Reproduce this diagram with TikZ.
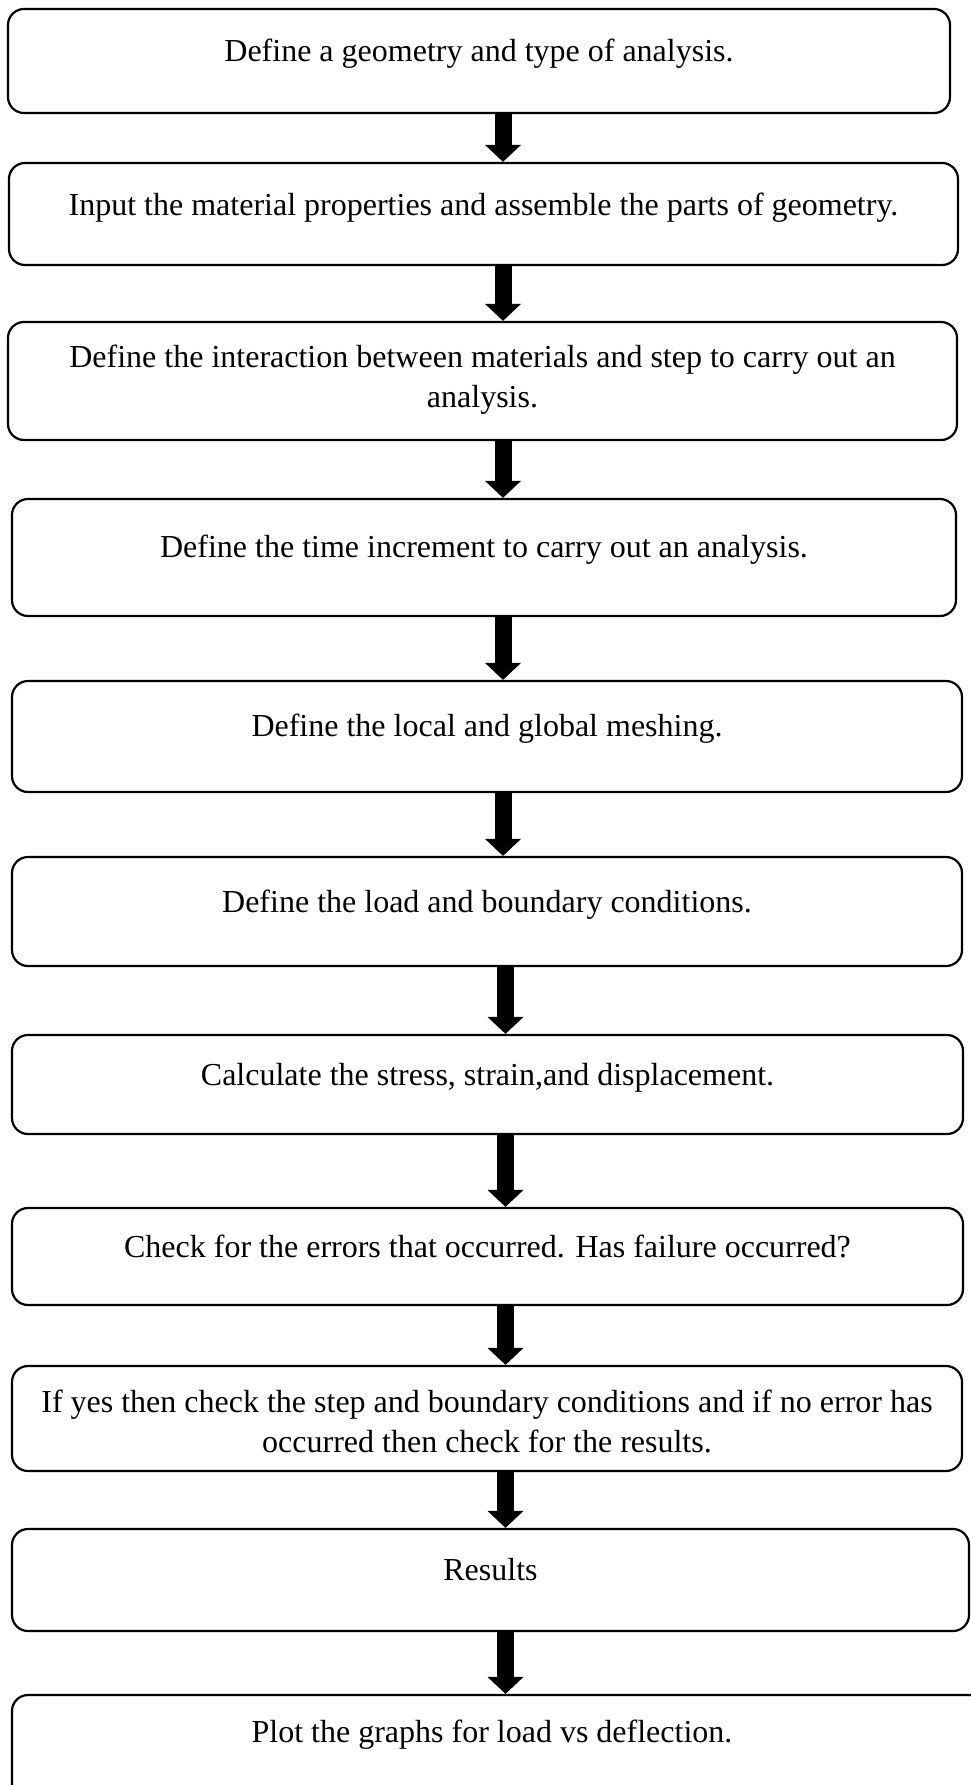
\documentclass[tikz,border=0pt]{standalone}
\usepackage{fontspec}
\setmainfont{Liberation Serif}
\usetikzlibrary{arrows.meta}
\tikzset{
  box/.style={draw=black, line width=2.2pt, rounded corners=16pt, inner sep=0pt, fill=white},
  txt/.style={font=\fontsize{32}{40}\selectfont, align=center, inner sep=0pt, anchor=base},
  arr/.style={line width=17pt, -{Triangle[width=35pt, length=17pt]}}
}
\begin{document}
\begin{tikzpicture}[x=1pt, y=-1pt]
\useasboundingbox (0,0) rectangle (971,1785);
\fill[white] (0,0) rectangle (971,1785);
\coordinate (ax) at (503,0);
\coordinate (bx) at (505.5,0);
\node[box, minimum width=942pt, minimum height=104pt] (b1) at (479,61) {};
\node[box, minimum width=949pt, minimum height=102pt] (b2) at (483.5,214) {};
\node[box, minimum width=949pt, minimum height=118pt] (b3) at (482.5,381) {};
\node[box, minimum width=944pt, minimum height=117pt] (b4) at (484,557.5) {};
\node[box, minimum width=950pt, minimum height=111pt] (b5) at (487,736.5) {};
\node[box, minimum width=950pt, minimum height=109pt] (b6) at (487,911.5) {};
\node[box, minimum width=951pt, minimum height=99pt] (b7) at (487.5,1084.5) {};
\node[box, minimum width=951pt, minimum height=97pt] (b8) at (487.5,1256.5) {};
\node[box, minimum width=950pt, minimum height=105pt] (b9) at (487,1418.5) {};
\node[box, minimum width=957pt, minimum height=102pt] (b10) at (490.5,1580) {};
\node[box, minimum width=973pt, minimum height=120pt] (b11) at (498.5,1755) {};

\node[txt] (t1) at (479,62) {Define a geometry and type of analysis.};
\node[txt] (t2) at (483.5,215) {Input the material properties and assemble the parts of geometry.};
\node[txt] (t3) at (482.5,407) {Define the interaction between materials and step to carry out an\\analysis.};
\node[txt] (t4) at (484,557) {Define the time increment to carry out an analysis.};
\node[txt] (t5) at (487,736) {Define the local and global meshing.};
\node[txt] (t6) at (487,912) {Define the load and boundary conditions.};
\node[txt] (t7) at (487.5,1085) {Calculate the stress, strain,and displacement.};
\node[txt] (t8) at (487.5,1257) {Check for the errors that occurred. Has failure occurred?};
\node[txt] (t9) at (487,1452) {If yes then check the step and boundary conditions and if no error has\\occurred then check for the results.};
\node[txt] (t10) at (490.5,1580) {Results};
\node[txt] (t11) at (492,1742) {Plot the graphs for load vs deflection.};

\foreach \a/\b in {b1/b2,b2/b3,b3/b4,b4/b5,b5/b6}
  \draw[arr] (\a.south -| ax) -- (\b.north -| ax);
\foreach \a/\b in {b6/b7,b7/b8,b8/b9,b9/b10,b10/b11}
  \draw[arr] (\a.south -| bx) -- (\b.north -| bx);
\end{tikzpicture}
\end{document}
